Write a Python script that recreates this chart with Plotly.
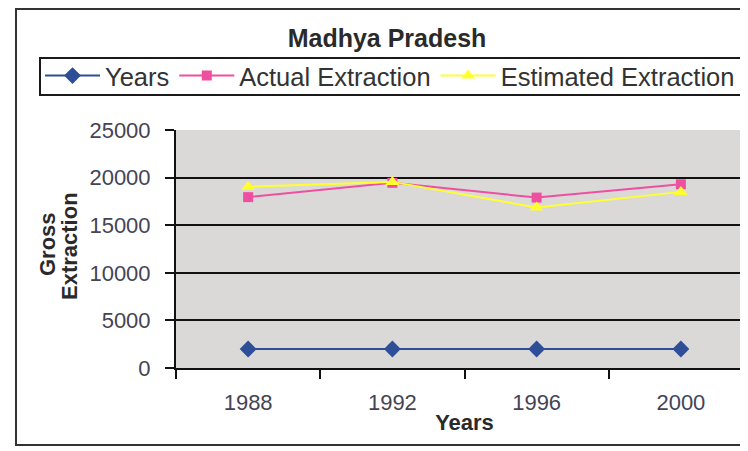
import plotly.graph_objects as go

years = ["1988", "1992", "1996", "2000"]
years_values = [1988, 1992, 1996, 2000]
actual_extraction = [17950, 19450, 17900, 19300]
estimated_extraction = [19050, 19550, 16850, 18500]
y_ticks = [0, 5000, 10000, 15000, 20000, 25000]

FONT = "Liberation Sans, Arial, sans-serif"

fig = go.Figure()
fig.add_trace(go.Scatter(
    x=years, y=years_values, name="Years", mode="lines+markers",
    line=dict(color="#2F4E98", width=2),
    marker=dict(symbol="diamond", size=13, color="#2F4E98"),
))
fig.add_trace(go.Scatter(
    x=years, y=actual_extraction, name="Actual Extraction", mode="lines+markers",
    line=dict(color="#EE4FA0", width=2),
    marker=dict(symbol="square", size=10, color="#EE4FA0"),
))
fig.add_trace(go.Scatter(
    x=years, y=estimated_extraction, name="Estimated Extraction", mode="lines+markers",
    line=dict(color="#FFFF30", width=2),
    marker=dict(symbol="triangle-up", size=12, color="#FFFF30"),
))

# page body adds an 8px offset; work in reference pixel coords minus that
OFF = 8
W, H = 745, 451 - OFF
L = 176 - OFF
T = 130 - OFF
B = H - (368 - OFF)
R = 0
pw, ph = W - L - R, H - T - B

def px(x):
    return (x - OFF - L) / pw

def py(y):
    return (H - B - (y - OFF)) / ph

fig.update_layout(
    width=W, height=H,
    margin=dict(l=L, r=R, t=T, b=B, autoexpand=False),
    paper_bgcolor="white",
    plot_bgcolor="#DBD9D7",
    font=dict(family=FONT, color="#333333"),
    title=dict(text="<b>Madhya Pradesh</b>", x=(387 - OFF) / W, xanchor="center",
               y=1 - (38 - OFF) / H, yanchor="middle", yref="container",
               font=dict(size=25, color="#2a2a2a", family=FONT)),
    legend=dict(orientation="h", x=px(40), y=py(76), xanchor="left", yanchor="middle",
                borderwidth=0, bgcolor="rgba(0,0,0,0)",
                font=dict(size=25.5, color="#333333", family=FONT),
                itemwidth=55, tracegroupgap=0),
    showlegend=True,
    shapes=[
        dict(type="rect", xref="paper", yref="paper",
             x0=px(16), x1=1.02, y0=py(445), y1=py(9),
             line=dict(color="#333333", width=2), layer="below"),
        dict(type="rect", xref="paper", yref="paper",
             x0=px(40), x1=1.05, y0=py(95), y1=py(58),
             line=dict(color="#1a1a1a", width=2), fillcolor="white", layer="below"),
    ],
    annotations=[
        dict(text="<b>Gross</b>", textangle=-90, xref="paper", yref="paper",
             x=px(47), y=py(244), xanchor="center", yanchor="middle", showarrow=False,
             font=dict(size=22, color="#2a2a2a", family=FONT)),
        dict(text="<b>Extraction</b>", textangle=-90, xref="paper", yref="paper",
             x=px(69), y=py(246), xanchor="center", yanchor="middle", showarrow=False,
             font=dict(size=22, color="#2a2a2a", family=FONT)),
    ],
)

fig.update_xaxes(
    type="category", range=[-0.5, 3.5], automargin=False,
    tickson="boundaries", ticks="outside", ticklen=9, tickwidth=2, tickcolor="#111",
    showline=True, linecolor="#111", linewidth=2, showgrid=False,
    tickfont=dict(size=22, color="#444455"), ticklabelstandoff=14,
    title=dict(text="<b>Years</b>", font=dict(size=22, color="#2a2a2a"), standoff=0),
)
fig.update_yaxes(
    range=[0, 25000], tickvals=y_ticks, ticktext=[str(v) for v in y_ticks], automargin=False,
    ticks="outside", ticklen=9, tickwidth=2, tickcolor="#111",
    showline=True, linecolor="#111", linewidth=2,
    showgrid=True, gridcolor="#111111", gridwidth=2, zeroline=False,
    tickfont=dict(size=22, color="#444455"), ticklabelstandoff=10,
)

fig.write_html("out.html")
